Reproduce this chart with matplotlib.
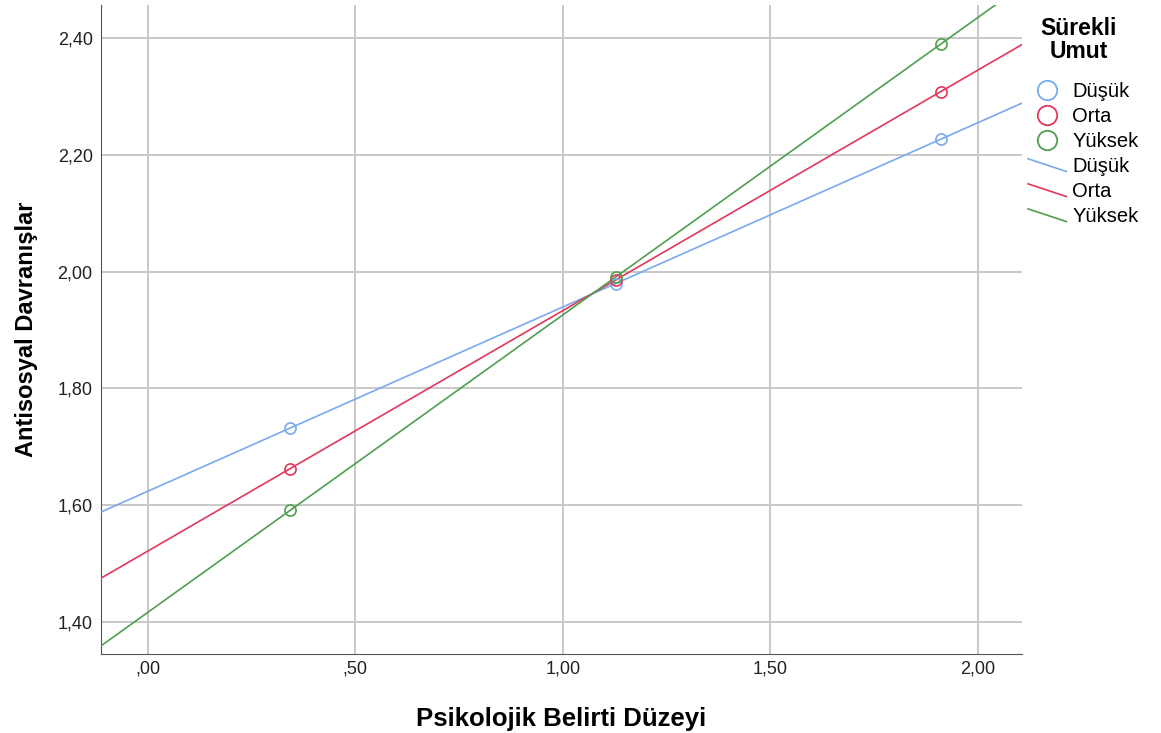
import numpy as np
import matplotlib.pyplot as plt
from matplotlib.legend_handler import HandlerLine2D

plt.rcParams['font.family'] = ['Liberation Sans', 'DejaVu Sans']

# data
x_vals = [0.342, 1.128, 1.911]
dusuk = [1.732, 1.979, 2.227]
orta = [1.662, 1.986, 2.308]
yuksek = [1.591, 1.990, 2.390]

groups = ['Düşük', 'Orta', 'Yüksek']
colors = ['#78aaee', '#e2375a', '#4f9f4f']
series = [dusuk, orta, yuksek]

x_ticks = [0.0, 0.5, 1.0, 1.5, 2.0]
x_ticklabels = [',00', ',50', '1,00', '1,50', '2,00']
y_ticks = [1.4, 1.6, 1.8, 2.0, 2.2, 2.4]
y_ticklabels = ['1,40', '1,60', '1,80', '2,00', '2,20', '2,40']

xmin, xmax = -0.113, 2.106
ymin, ymax = 1.345, 2.456


class SlantLine(HandlerLine2D):
    # spss style legend line, going down to the right
    def create_artists(self, legend, orig_handle, xdescent, ydescent, width, height, fontsize, trans):
        ln = plt.Line2D([-xdescent, -xdescent + width], [height * 0.95, height * 0.05])
        self.update_prop(ln, orig_handle, legend)
        ln.set_transform(trans)
        return [ln]


fig = plt.figure(figsize=(11.61, 7.33), dpi=100)
ax = fig.add_axes([0.087, 0.1078, 0.793, 0.885])

xs = np.array([xmin, xmax])
for name, col, ys in zip(groups, colors, series):
    # fit line through the three points
    slope, icpt = np.polyfit(x_vals, ys, 1)
    ax.plot(xs, icpt + slope * xs, color=col, lw=1.2, zorder=3)
    ax.plot(x_vals, ys, 'o', mfc='none', mec=col, ms=8, mew=1.2, zorder=4)

ax.set_xlim(xmin, xmax)
ax.set_ylim(ymin, ymax)
ax.set_xticks(x_ticks)
ax.set_xticklabels(x_ticklabels)
ax.set_yticks(y_ticks)
ax.set_yticklabels(y_ticklabels)
ax.tick_params(axis='x', length=0, labelsize=13, colors='#222222', pad=5)
ax.tick_params(axis='y', length=0, labelsize=13, colors='#222222', pad=6)

ax.grid(True, color='#c8c8c8', lw=1.4)
ax.set_axisbelow(True)
for s in ['top', 'right']:
    ax.spines[s].set_visible(False)
for s in ['left', 'bottom']:
    ax.spines[s].set_color('#555555')

ax.set_xlabel('Psikolojik Belirti Düzeyi', fontsize=18.5, fontweight='bold', labelpad=21)
ax.set_ylabel('Antisosyal Davranışlar', fontsize=17, fontweight='bold', labelpad=14)

# legend title drawn on its own, legend below it
fig.text(1079 / 1161, 1 - 40 / 733, 'Sürekli\nUmut', ha='center', va='center',
         fontsize=16.5, fontweight='bold', linespacing=1.0, multialignment='center')

pt_leg = [plt.Line2D([], [], ls='none', marker='o', mfc='none', mec=c, ms=14, mew=1.3) for c in colors]
ln_leg = [plt.Line2D([], [], color=c, lw=1.2) for c in colors]
hmap = {h: SlantLine() for h in ln_leg}
leg = fig.legend(pt_leg + ln_leg, groups + groups, loc='upper left',
                 bbox_to_anchor=(1020 / 1161, 1 - 74 / 733), frameon=False,
                 fontsize=14.5, handlelength=1.9, handletextpad=0.3, labelspacing=0.3,
                 borderaxespad=0, handler_map=hmap)

fig.savefig('out.png', dpi=100)
